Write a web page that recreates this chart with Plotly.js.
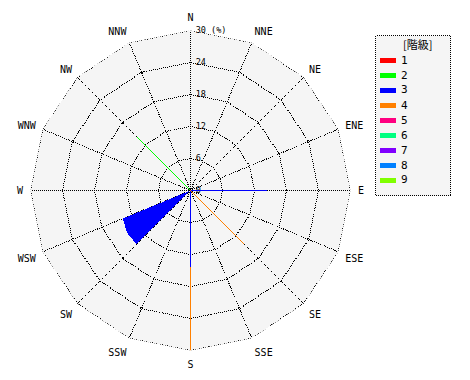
<!DOCTYPE html>
<html><head><meta charset="utf-8">
<script src="https://cdn.plot.ly/plotly-3.0.1.min.js"></script>
<style>html,body{margin:0;padding:0;background:#fff}#chart{width:470px;height:380px}
#chart svg path{shape-rendering:crispEdges}</style>
</head><body><div id="chart"></div>
<script>
// ---- data ----
const directions = ['N','NNE','NE','ENE','E','ESE','SE','SSE','S','SSW','SW','WSW','W','WNW','NW','NNW'];
const classNames = ['1','2','3','4','5','6','7','8','9'];
const classColors = ['#ff0000','#00ff00','#0000ff','#ff8000','#ff0080','#00ff80','#8000ff','#0080ff','#80ff00'];
// frequency (%) per class, one value per direction (same order as directions)
const class1 = [0,0,0,0,0,0,0,0,0,0,0,0,0,0,0,0];
const class2 = [0,0,0,0,0,0,0,0,0,0,0,0,0,0,14.3,0];
const class3 = [0,0,0,0,14.3,0,0,0,14.3,0,0,14.3,0,0,0,0];
const class4 = [0,0,0,0,0,0,14.3,0,15.7,0,0,0,0,0,0,0];
const class5 = [0,0,0,0,0,0,0,0,0,0,0,0,0,0,0,0];
const class6 = [0,0,0,0,0,0,0,0,0,0,0,0,0,0,0,0];
const class7 = [0,0,0,0,0,0,0,0,0,0,0,0,0,0,0,0];
const class8 = [0,0,0,0,0,0,0,0,0,0,0,0,0,0,0,0];
const class9 = [0,0,0,0,0,0,0,0,0,0,0,0,0,0,0,0];
const sectorDirections = ['WSW'];   // directions drawn as a filled sector
const radialMax = 30;
const radialTicks = [0,6,12,18,24,30];
const radialTickText = ['0','6','12','18','24','30 (%)'];
const legendTitle = '[階級]';

// ---- build ----
const W = 470, H = 380;
const fx = p => p / W, fy = p => 1 - p / H;
const classData = [class1,class2,class3,class4,class5,class6,class7,class8,class9];
const traces = [];
const base = directions.map(() => 0);
classData.forEach((vals, k) => {
  const r = [], th = [], br = [], bb = [], bth = [];
  vals.forEach((v, i) => {
    if (v > 0) {
      if (sectorDirections.includes(directions[i])) {
        br.push(v); bb.push(base[i]); bth.push(directions[i]);
      } else {
        r.push(base[i], base[i] + v, null); th.push(directions[i], directions[i], null);
      }
      base[i] += v;
    }
  });
  if (br.length) traces.push({type:'barpolar', r:br, base:bb, theta:bth, width:1, offset:-1,
    marker:{color:classColors[k], line:{width:0}}, showlegend:false, hoverinfo:'skip'});
  if (r.length) traces.push({type:'scatterpolar', mode:'lines', r:r, theta:th, connectgaps:false,
    line:{color:classColors[k], width:1}, showlegend:false, hoverinfo:'skip'});
});
// outer boundary ring at radialMax (dotted like the grid)
traces.push({type:'scatterpolar', mode:'lines', r:directions.concat([directions[0]]).map(() => radialMax),
  theta:directions.concat([directions[0]]), line:{color:'#000', width:1, dash:'1px,1px'},
  showlegend:false, hoverinfo:'skip'});

// custom legend
const shapes = [{type:'rect', xref:'paper', yref:'paper', x0:fx(375.5), x1:fx(450.5), y0:fy(195.5), y1:fy(35.5),
  fillcolor:'#f5f5f5', line:{color:'#000', width:1, dash:'1px,1px'}, layer:'below'}];
const annotations = [{xref:'paper', yref:'paper', x:fx(417), y:fy(44), text:legendTitle, showarrow:false,
  xanchor:'center', yanchor:'middle', font:{family:'Noto Sans CJK JP', size:11, color:'#000'}}];
classNames.forEach((n, k) => {
  const yc = 60 + 15 * k;
  shapes.push({type:'rect', xref:'paper', yref:'paper', x0:fx(380), x1:fx(396), y0:fy(yc + 2.5), y1:fy(yc - 2.5),
    fillcolor:classColors[k], line:{width:0}});
  annotations.push({xref:'paper', yref:'paper', x:fx(399), y:fy(yc), text:n, showarrow:false,
    xanchor:'left', yanchor:'middle', font:{family:'DejaVu Sans Mono', size:11, color:'#000'}});
});

const layout = {
  width: W, height: H, margin:{l:0, r:0, t:0, b:0}, paper_bgcolor:'#fff', showlegend:false, hovermode:false,
  font:{family:'DejaVu Sans Mono', size:10, color:'#000'},
  polar:{
    domain:{x:[fx(30.5), fx(350.5)], y:[fy(350.5), fy(30.5)]},
    bgcolor:'#f5f5f5', gridshape:'linear', barmode:'overlay',
    radialaxis:{range:[0, radialMax], angle:90, tickangle:90, tickvals:radialTicks, ticktext:radialTickText,
      showline:false, ticks:'outside', ticklen:3, tickcolor:'rgba(0,0,0,0)', gridcolor:'#000', gridwidth:1,
      griddash:'1px,1px', layer:'below traces',
      tickfont:{family:'DejaVu Sans Mono', size:8.5, color:'#000'}},
    angularaxis:{type:'category', categoryarray:directions, rotation:90, direction:'clockwise',
      showline:false, ticks:'outside', ticklen:5, tickcolor:'rgba(0,0,0,0)', gridcolor:'#000', gridwidth:1,
      griddash:'1px,1px', layer:'below traces',
      tickfont:{family:'DejaVu Sans Mono', size:10, color:'#000'}}
  },
  shapes: shapes, annotations: annotations
};
Plotly.newPlot('chart', traces, layout, {staticPlot:true, displayModeBar:false});
</script></body></html>
